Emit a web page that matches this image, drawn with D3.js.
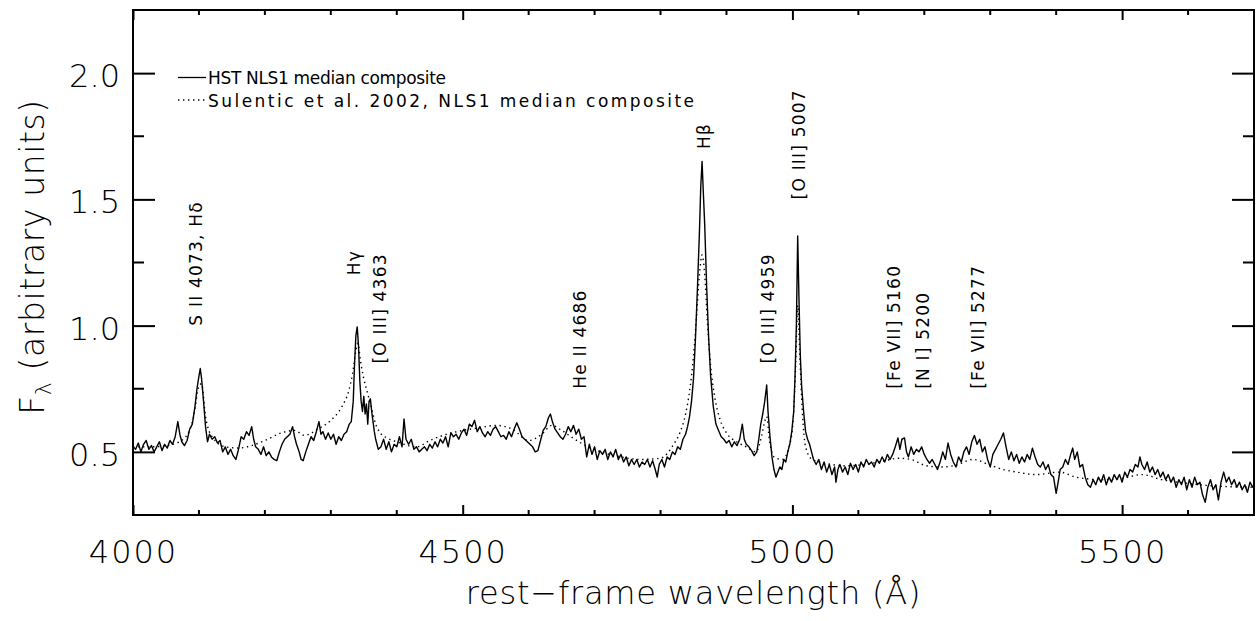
<!DOCTYPE html>
<html>
<head>
<meta charset="utf-8">
<script src="https://cdn.jsdelivr.net/npm/d3@7"></script>
<style>
  html, body { margin: 0; padding: 0; background: #fff; }
  svg { display: block; }
  text { font-family: "DejaVu Sans", sans-serif; fill: #000; font-weight: 200; }
  text.small { font-weight: 400; }
</style>
</head>
<body>
<svg id="chart" width="1256" height="621"></svg>
<script>
// ---------------- data ----------------
const xDomain = [4000, 5700];
const yDomain = [0.25, 2.25];
const xMajorTicks = [4000, 4500, 5000, 5500];
const xMinorTicks = d3.range(4000, 5701, 100);
const yMajorTicks = [0.5, 1.0, 1.5, 2.0];
const yMinorTicks = [0.75, 1.25, 1.75];
const xTickLabels = ["4000", "4500", "5000", "5500"];
const yTickLabels = ["0.5", "1.0", "1.5", "2.0"];
const seriesNames = ["HST NLS1 median composite", "Sulentic et al. 2002, NLS1 median composite"];

// HST NLS1 median composite: [wavelength (Å), flux]
const hstSpectrum = [
[4000,.52],[4004,.51],[4008,.535],[4012,.50],[4016,.53],[4020,.545],[4024,.51],[4028,.525],[4032,.50],[4036,.52],
[4040,.54],[4044,.505],[4048,.53],[4052,.515],[4056,.545],[4060,.53],[4064,.56],[4068,.62],[4071,.57],[4074,.54],
[4078,.525],[4082,.545],[4086,.59],[4090,.61],[4094,.68],[4097,.75],[4100,.80],[4102,.83],[4104,.79],[4107,.70],
[4110,.60],[4113,.54],[4116,.57],[4120,.55],[4124,.56],[4128,.535],[4132,.545],[4136,.50],[4140,.52],[4144,.49],
[4148,.51],[4152,.485],[4156,.47],[4160,.51],[4164,.56],[4168,.55],[4172,.58],[4176,.565],[4180,.60],[4183,.55],
[4186,.52],[4190,.51],[4194,.49],[4198,.52],[4202,.485],[4206,.50],[4210,.48],[4214,.47],[4218,.465],[4222,.50],
[4226,.53],[4230,.55],[4234,.56],[4238,.57],[4242,.60],[4245,.56],[4248,.53],[4252,.50],[4255,.47],[4258,.465],
[4262,.50],[4266,.53],[4270,.56],[4274,.545],[4278,.58],[4282,.62],[4285,.57],[4288,.58],[4292,.55],[4296,.575],
[4300,.55],[4304,.57],[4308,.53],[4312,.56],[4316,.545],[4320,.57],[4324,.58],[4328,.61],[4331,.62],[4334,.70],
[4336,.85],[4338,.96],[4340,.995],[4342,.92],[4344,.78],[4346,.70],[4348,.66],[4350,.72],[4352,.65],[4354,.69],
[4356,.61],[4358,.70],[4360,.71],[4362,.66],[4364,.62],[4366,.58],[4368,.55],[4372,.51],[4376,.52],[4380,.55],
[4384,.51],[4388,.54],[4392,.50],[4396,.53],[4400,.52],[4404,.56],[4408,.52],[4411,.63],[4414,.55],[4418,.53],
[4422,.55],[4426,.51],[4430,.52],[4434,.50],[4438,.51],[4442,.52],[4446,.505],[4450,.53],[4454,.515],[4458,.54],
[4462,.52],[4466,.55],[4470,.535],[4474,.56],[4478,.52],[4482,.575],[4486,.56],[4490,.57],[4494,.55],[4498,.575],
[4502,.59],[4506,.565],[4510,.61],[4514,.60],[4518,.625],[4522,.58],[4526,.60],[4530,.575],[4534,.56],[4538,.58],
[4542,.565],[4546,.59],[4550,.60],[4554,.58],[4558,.56],[4562,.565],[4566,.55],[4570,.58],[4574,.56],[4578,.59],
[4582,.615],[4586,.59],[4590,.56],[4594,.55],[4598,.54],[4602,.53],[4606,.52],[4610,.50],[4614,.505],[4618,.545],
[4622,.585],[4626,.60],[4630,.635],[4633,.65],[4636,.62],[4640,.59],[4644,.575],[4648,.56],[4652,.55],[4656,.57],
[4660,.60],[4664,.58],[4668,.605],[4672,.57],[4676,.59],[4680,.55],[4684,.56],[4688,.48],[4692,.53],[4696,.49],
[4700,.52],[4704,.47],[4708,.505],[4712,.49],[4716,.51],[4720,.47],[4724,.50],[4728,.48],[4732,.51],[4736,.47],
[4740,.49],[4744,.46],[4748,.48],[4752,.445],[4756,.47],[4760,.45],[4764,.47],[4768,.44],[4772,.46],[4776,.45],
[4780,.47],[4784,.44],[4788,.465],[4792,.43],[4795,.40],[4798,.45],[4802,.47],[4806,.44],[4810,.48],[4814,.47],
[4818,.50],[4822,.49],[4826,.52],[4830,.51],[4834,.55],[4838,.57],[4841,.60],[4844,.64],[4847,.70],[4850,.79],
[4853,.95],[4856,1.15],[4859,1.37],[4861,1.55],[4863,1.65],[4865,1.52],[4867,1.40],[4870,1.15],[4873,.95],[4876,.80],
[4880,.68],[4884,.61],[4888,.585],[4892,.56],[4896,.55],[4900,.535],[4904,.545],[4908,.52],[4912,.54],[4916,.525],
[4920,.55],[4924,.61],[4927,.55],[4930,.53],[4934,.52],[4938,.505],[4942,.485],[4946,.50],[4949,.55],[4952,.61],
[4955,.65],[4958,.70],[4961,.765],[4963,.66],[4966,.56],[4969,.48],[4972,.43],[4975,.40],[4978,.42],[4981,.44],
[4984,.43],[4987,.47],[4990,.46],[4993,.50],[4996,.53],[4999,.58],[5002,.66],[5004,.80],[5006,1.0],[5008,1.355],
[5010,1.10],[5012,.88],[5014,.76],[5017,.66],[5020,.58],[5023,.55],[5026,.53],[5029,.50],[5032,.47],[5036,.45],
[5040,.47],[5044,.43],[5048,.46],[5052,.42],[5056,.45],[5060,.41],[5064,.44],[5066,.38],[5069,.43],[5072,.45],
[5076,.42],[5080,.44],[5084,.41],[5088,.455],[5092,.43],[5096,.45],[5100,.42],[5104,.46],[5108,.44],[5112,.47],
[5116,.45],[5120,.46],[5124,.44],[5128,.47],[5132,.455],[5136,.48],[5140,.46],[5144,.49],[5148,.47],[5152,.49],
[5156,.52],[5160,.555],[5163,.51],[5166,.55],[5170,.555],[5173,.50],[5176,.48],[5180,.52],[5184,.49],[5188,.51],
[5192,.50],[5196,.52],[5200,.49],[5204,.47],[5208,.455],[5212,.47],[5216,.45],[5220,.43],[5224,.46],[5228,.50],
[5232,.47],[5236,.535],[5240,.49],[5244,.46],[5248,.44],[5252,.48],[5256,.46],[5260,.50],[5264,.52],[5268,.49],
[5272,.54],[5276,.565],[5280,.53],[5284,.55],[5288,.50],[5292,.52],[5296,.47],[5300,.44],[5304,.49],[5308,.51],
[5312,.53],[5316,.55],[5320,.575],[5324,.52],[5328,.47],[5332,.50],[5336,.465],[5340,.49],[5344,.455],[5348,.48],
[5352,.46],[5356,.49],[5360,.47],[5364,.515],[5368,.48],[5372,.45],[5376,.44],[5380,.46],[5384,.43],[5388,.45],
[5392,.41],[5396,.40],[5400,.336],[5403,.38],[5406,.43],[5410,.44],[5414,.47],[5418,.45],[5422,.49],[5425,.515],
[5428,.47],[5432,.50],[5436,.44],[5440,.45],[5444,.40],[5448,.37],[5452,.36],[5456,.39],[5460,.37],[5464,.40],
[5468,.38],[5472,.41],[5476,.37],[5480,.40],[5484,.38],[5488,.41],[5492,.39],[5496,.41],[5500,.38],[5504,.42],
[5508,.40],[5512,.43],[5516,.42],[5520,.45],[5524,.44],[5527,.48],[5530,.45],[5534,.43],[5538,.46],[5542,.42],
[5546,.44],[5550,.41],[5554,.43],[5558,.40],[5562,.42],[5566,.39],[5570,.41],[5574,.38],[5578,.40],[5582,.36],
[5586,.39],[5590,.37],[5594,.40],[5598,.35],[5602,.39],[5606,.36],[5610,.40],[5614,.37],[5618,.38],[5622,.33],
[5626,.30],[5630,.36],[5634,.39],[5638,.35],[5642,.37],[5646,.31],[5650,.38],[5654,.42],[5658,.38],[5662,.40],
[5666,.37],[5670,.39],[5674,.36],[5678,.38],[5682,.35],[5686,.37],[5690,.34],[5694,.38],[5698,.36],[5700,.37]
];

// Sulentic et al. 2002 NLS1 median composite: [wavelength (Å), flux]
const sulenticSpectrum = [
[4000,.52],[4030,.52],[4060,.53],[4080,.56],[4092,.64],[4100,.76],[4104,.77],[4110,.64],[4120,.56],[4140,.52],
[4160,.515],[4180,.525],[4200,.545],[4225,.575],[4245,.585],[4260,.565],[4280,.59],[4300,.625],[4317,.68],[4327,.74],
[4333,.81],[4338,.90],[4341,.93],[4345,.86],[4350,.79],[4356,.73],[4362,.67],[4368,.61],[4375,.575],[4385,.555],
[4400,.54],[4430,.52],[4450,.545],[4470,.565],[4500,.585],[4525,.595],[4550,.605],[4575,.59],[4600,.545],[4620,.57],
[4635,.605],[4650,.585],[4670,.55],[4690,.52],[4710,.50],[4740,.48],[4770,.47],[4800,.475],[4820,.53],[4830,.58],
[4838,.65],[4844,.74],[4850,.88],[4855,1.05],[4859,1.20],[4863,1.28],[4867,1.20],[4871,1.02],[4876,.84],[4882,.72],
[4890,.63],[4900,.575],[4915,.54],[4930,.52],[4945,.50],[4953,.56],[4958,.62],[4961,.64],[4965,.55],[4972,.48],
[4985,.47],[4995,.52],[5001,.62],[5005,.85],[5008,1.08],[5011,.90],[5015,.66],[5020,.52],[5030,.47],[5050,.455],
[5080,.445],[5110,.45],[5140,.465],[5161,.475],[5180,.47],[5203,.445],[5225,.44],[5248,.447],[5274,.47],[5300,.447],
[5320,.43],[5340,.42],[5370,.41],[5405,.42],[5430,.40],[5470,.39],[5500,.395],[5530,.41],[5560,.39],[5600,.375],
[5640,.365],[5700,.36]
];

// Line identifications: label, anchor wavelength, anchor flux (bottom of rotated text)
const lineLabels = ["S II 4073, H\u03b4", "H\u03b3", "[O III] 4363", "He II 4686", "H\u03b2",
                    "[O III] 4959", "[O III] 5007", "[Fe VII] 5160", "[N I] 5200", "[Fe VII] 5277"];
const lineLabelWave = [4105, 4344, 4383, 4687, 4875, 4972, 5019, 5163, 5207, 5290];
const lineLabelFlux = [1.00, 1.20, 0.85, 0.75, 1.70, 0.85, 1.50, 0.75, 0.75, 0.75];

// ---------------- drawing ----------------
const svg = d3.select("#chart");
const pL = 133, pR = 1254, pT = 10, pB = 515;
const x = d3.scaleLinear().domain(xDomain).range([pL, pR]);
const y = d3.scaleLinear().domain(yDomain).range([pB, pT]);

svg.append("defs").append("clipPath").attr("id", "clip")
  .append("rect").attr("x", pL).attr("y", pT).attr("width", pR - pL).attr("height", pB - pT);

svg.append("path").datum(sulenticSpectrum)
  .attr("clip-path", "url(#clip)")
  .attr("d", d3.line().x(d => x(d[0])).y(d => y(d[1])).curve(d3.curveMonotoneX))
  .attr("fill", "none").attr("stroke", "#000").attr("stroke-width", 1.4)
  .attr("stroke-dasharray", "1.4,3.6");

svg.append("path").datum(hstSpectrum)
  .attr("clip-path", "url(#clip)")
  .attr("d", d3.line().x(d => x(d[0])).y(d => y(d[1])))
  .attr("fill", "none").attr("stroke", "#000").attr("stroke-width", 1.4)
  .attr("stroke-linejoin", "round");

// Axes with inward ticks on all four sides
const xMajLen = 10, xMinLen = 5, yMajLen = 22, yMinLen = 11;
const ax = svg.append("g").attr("stroke", "#000").attr("stroke-width", 2);

const gb = svg.append("g").attr("transform", `translate(0,${pB})`)
  .call(d3.axisBottom(x).tickValues(xMajorTicks).tickFormat((d, i) => xTickLabels[i])
    .tickSizeInner(-xMajLen).tickSizeOuter(0).tickPadding(25));
gb.selectAll("text").style("font-size", "32px").style("font-family", "DejaVu Sans").style("letter-spacing", "2px");
gb.selectAll(".tick line").attr("stroke-width", 2);
gb.select(".domain").remove();

const gt = svg.append("g").attr("transform", `translate(0,${pT})`)
  .call(d3.axisTop(x).tickValues(xMajorTicks).tickFormat("").tickSizeInner(-xMajLen).tickSizeOuter(0));
gt.selectAll(".tick line").attr("stroke-width", 2); gt.select(".domain").remove();

[pB, pT].forEach(yy => {
  const dir = yy === pB ? -1 : 1;
  ax.append("g").selectAll("line").data(xMinorTicks.filter(v => !xMajorTicks.includes(v))).enter().append("line")
    .attr("x1", d => x(d)).attr("x2", d => x(d)).attr("y1", yy).attr("y2", yy + dir * xMinLen);
});

const gl = svg.append("g").attr("transform", `translate(${pL},0)`)
  .call(d3.axisLeft(y).tickValues(yMajorTicks).tickFormat((d, i) => yTickLabels[i])
    .tickSizeInner(-yMajLen).tickSizeOuter(0).tickPadding(13));
gl.selectAll("text").style("font-size", "32px").style("font-family", "DejaVu Sans").attr("dy", "0.42em");
gl.selectAll(".tick line").attr("stroke-width", 2); gl.select(".domain").remove();

const gr = svg.append("g").attr("transform", `translate(${pR},0)`)
  .call(d3.axisRight(y).tickValues(yMajorTicks).tickFormat("").tickSizeInner(-yMajLen).tickSizeOuter(0));
gr.selectAll(".tick line").attr("stroke-width", 2); gr.select(".domain").remove();

[pL, pR].forEach(xx => {
  const dir = xx === pL ? 1 : -1;
  ax.append("g").selectAll("line").data(yMinorTicks).enter().append("line")
    .attr("y1", d => y(d)).attr("y2", d => y(d)).attr("x1", xx).attr("x2", xx + dir * yMinLen);
});

// frame
svg.append("rect").attr("x", pL).attr("y", pT).attr("width", pR - pL).attr("height", pB - pT)
  .attr("fill", "none").attr("stroke", "#000").attr("stroke-width", 2);

// axis titles
svg.append("text").attr("x", (pL + pR) / 2).attr("y", 604).attr("text-anchor", "middle")
  .style("font-size", "32px").style("letter-spacing", "0.8px").text("rest\u2212frame wavelength (\u00c5)");
const yt = svg.append("text").attr("transform", "translate(44,257) rotate(-90)").attr("text-anchor", "middle")
  .style("font-size", "33px").style("letter-spacing", "0.6px");
yt.append("tspan").text("F");
yt.append("tspan").attr("dy", 7).style("font-size", "22px").text("\u03bb");
yt.append("tspan").attr("dy", -7).text(" (arbitrary units)");

// legend
const legend = svg.append("g");
const legY = [77.5, 100];
const legTextLen = [238, 486];
legend.selectAll("line").data(seriesNames).enter().append("line")
  .attr("x1", 178).attr("x2", 206).attr("y1", (d, i) => legY[i]).attr("y2", (d, i) => legY[i])
  .attr("stroke", "#000").attr("stroke-width", (d, i) => i ? 1.4 : 1.3)
  .attr("stroke-dasharray", (d, i) => i ? "1.4,3.6" : null);
legend.selectAll("text").data(seriesNames).enter().append("text").attr("class", "small")
  .attr("x", 208).attr("y", (d, i) => legY[i] + 6.5)
  .attr("textLength", (d, i) => legTextLen[i]).attr("lengthAdjust", "spacing")
  .style("font-size", "17px").text(d => d);

// line identification labels
svg.selectAll(".lineid").data(lineLabels).enter().append("text").attr("class", "lineid small")
  .attr("transform", (d, i) => `translate(${x(lineLabelWave[i])},${y(lineLabelFlux[i])}) rotate(-90)`)
  .style("font-size", "17px").style("letter-spacing", "1.2px").text(d => d);
</script>
</body>
</html>
